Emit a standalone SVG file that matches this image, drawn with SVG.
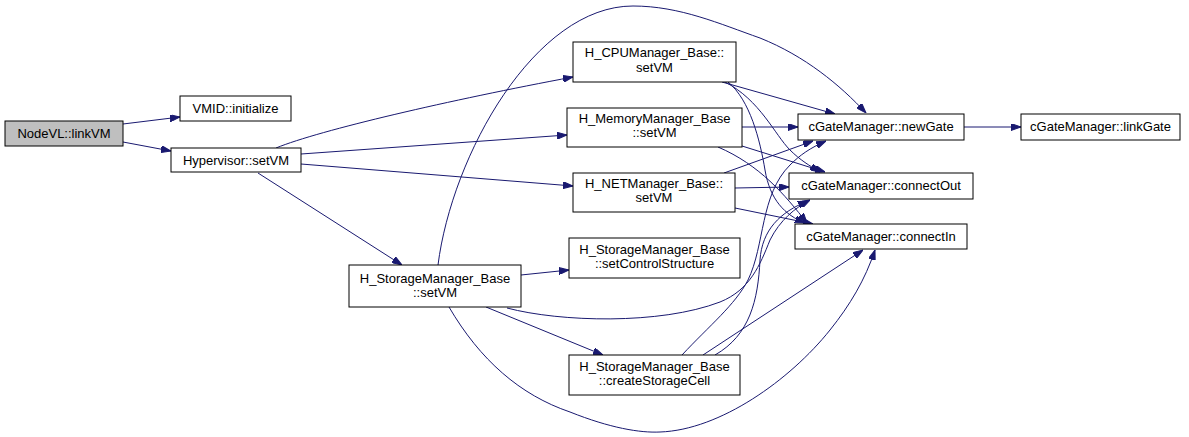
<svg xmlns="http://www.w3.org/2000/svg" width="1189" height="437" viewBox="0 0 1189 437">
<defs>
<marker id="ah" viewBox="0 0 10 7" refX="10" refY="3.5" markerWidth="10" markerHeight="7" markerUnits="userSpaceOnUse" orient="auto">
<polygon points="0,0 10,3.5 0,7" fill="#191970" stroke="#191970" stroke-width="1"/>
</marker>
<style>
.n rect{fill:#ffffff;stroke:#000000;stroke-width:1}
.n.h rect{fill:#bfbfbf}
.n text{font-family:"Liberation Sans",Arial,sans-serif;font-size:13px;fill:#000000;text-anchor:middle}
.e path{fill:none;stroke:#191970;stroke-width:1;marker-end:url(#ah)}
</style>
</defs>
<rect width="1189" height="437" fill="#ffffff"/>
<g id="edges" class="e">
<path d="M123,124 L180,117"/>
<path d="M123,142 L171,151"/>
<path d="M276,148 C320,130 450,100 573,77"/>
<path d="M301,154 L567,135"/>
<path d="M301,164 L573,186"/>
<path d="M258,173 L402,265"/>
<path d="M722,82 L835,114"/>
<path d="M725,82 C760,100 775,135 790,150 C800,160 810,166 820,172"/>
<path d="M728,82 C750,100 760,140 765,170 C770,200 785,215 805,223"/>
<path d="M742,127 L798,127"/>
<path d="M742,146 L825,172"/>
<path d="M718,147 C760,165 785,195 807,223"/>
<path d="M724,173 L813,141"/>
<path d="M735,188 L789,187"/>
<path d="M735,208 L813,224"/>
<path d="M438,265 C452,155 535,6 633,6 C680,6 720,24 760,38 C805,56 840,85 866,113"/>
<path d="M521,275 L569,270"/>
<path d="M486,307 L603,355"/>
<path d="M507,308 C560,322 660,325 720,302 C750,290 760,265 770,240 C780,220 795,208 810,200"/>
<path d="M449,307 C480,360 520,395 570,412 C610,428 640,433 660,432 C720,430 790,380 830,330 C850,305 865,280 875,250"/>
<path d="M682,355 C710,325 735,305 748,280 C765,245 760,195 790,165 C800,155 810,148 826,141"/>
<path d="M715,355 C750,335 758,300 760,260 C762,230 780,212 808,201"/>
<path d="M703,355 L863,250"/>
<path d="M964,127 L1021,127"/>
</g>
<g id="node_linkVM" class="n h"><rect x="5" y="121" width="118" height="25"/><text x="64" y="138">NodeVL::linkVM</text></g>
<g id="node_vmid" class="n"><rect x="180" y="96" width="111" height="25"/><text x="235.5" y="113">VMID::initialize</text></g>
<g id="node_hyp" class="n"><rect x="171" y="148" width="130" height="24"/><text x="236" y="164.5">Hypervisor::setVM</text></g>
<g id="node_storage" class="n"><rect x="349" y="265" width="172" height="42"/><text x="435" y="283">H_StorageManager_Base</text><text x="435" y="297">::setVM</text></g>
<g id="node_cpu" class="n"><rect x="573" y="42" width="163" height="40"/><text x="654.5" y="57">H_CPUManager_Base::</text><text x="654.5" y="72">setVM</text></g>
<g id="node_mem" class="n"><rect x="567" y="108" width="175" height="39"/><text x="654.5" y="123">H_MemoryManager_Base</text><text x="654.5" y="137">::setVM</text></g>
<g id="node_net" class="n"><rect x="573" y="173" width="162" height="39"/><text x="654" y="188">H_NETManager_Base::</text><text x="654" y="202">setVM</text></g>
<g id="node_ctrl" class="n"><rect x="569" y="238" width="171" height="40"/><text x="654.5" y="254">H_StorageManager_Base</text><text x="654.5" y="268">::setControlStructure</text></g>
<g id="node_cell" class="n"><rect x="569" y="355" width="171" height="40"/><text x="654.5" y="371">H_StorageManager_Base</text><text x="654.5" y="385">::createStorageCell</text></g>
<g id="node_newGate" class="n"><rect x="798" y="114" width="166" height="26"/><text x="881" y="131">cGateManager::newGate</text></g>
<g id="node_linkGate" class="n"><rect x="1021" y="114" width="159" height="26"/><text x="1100.5" y="131">cGateManager::linkGate</text></g>
<g id="node_connectOut" class="n"><rect x="789" y="173" width="184" height="26"/><text x="881" y="190">cGateManager::connectOut</text></g>
<g id="node_connectIn" class="n"><rect x="795" y="224" width="172" height="25"/><text x="881" y="241">cGateManager::connectIn</text></g>
</svg>
